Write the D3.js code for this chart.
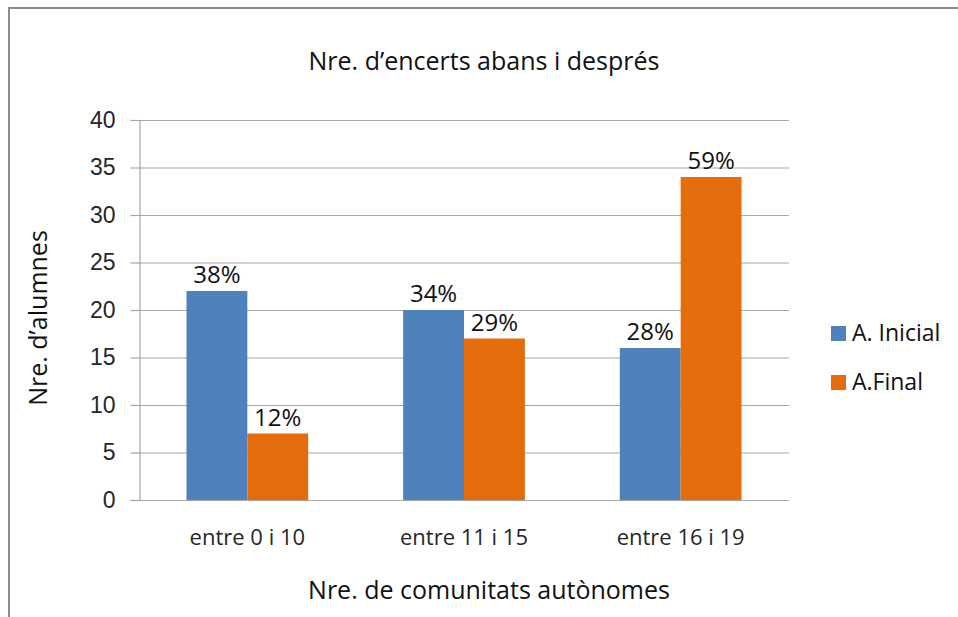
<!DOCTYPE html>
<html><head><meta charset="utf-8">
<script src="https://cdn.jsdelivr.net/npm/d3@7"></script>
<style>
html,body{margin:0;padding:0;background:#fff;overflow:hidden;}
svg{display:block;}
</style></head>
<body>
<svg id="c" width="958" height="617"></svg>
<script>
const categories = ["entre 0 i 10", "entre 11 i 15", "entre 16 i 19"];
const seriesNames = ["A. Inicial", "A.Final"];
const inicialValues = [22, 20, 16];
const finalValues = [7, 17, 34];
const inicialLabels = ["38%", "34%", "28%"];
const finalLabels = ["12%", "29%", "59%"];
const yTicks = [0, 5, 10, 15, 20, 25, 30, 35, 40];
const colors = ["#4F81BD", "#E46C0A"];

(function () {
const svg = d3.select("#c");
const fontMain = "'Open Sans', 'Noto Sans', sans-serif";
const fontNum = "'Liberation Sans', Arial, sans-serif";

// chart border
svg.append("rect").attr("x", 9).attr("y", 8).attr("width", 1000).attr("height", 700)
  .attr("fill", "none").attr("stroke", "#8c8c8c").attr("stroke-width", 2);

const pLeft = 139, pRight = 789, pTop = 120, pBottom = 500;
const x = d3.scaleBand().domain(categories).range([pLeft, pRight]).paddingInner(0).paddingOuter(0);
const y = d3.scaleLinear().domain([0, 40]).range([pBottom, pTop]);
const inner = d3.scaleBand().domain(seriesNames).range([0, x.bandwidth()]).paddingInner(0).paddingOuter(0.78);

// gridlines
svg.append("g").selectAll("line").data(yTicks.filter(d => d > 0)).join("line")
  .attr("x1", pLeft).attr("x2", pRight)
  .attr("y1", d => y(d) + 0.5).attr("y2", d => y(d) + 0.5)
  .attr("stroke", "#a6a6a6").attr("stroke-width", 1.2);

// y axis
const yAxis = svg.append("g").attr("transform", `translate(${pLeft + 0.5},0)`)
  .call(d3.axisLeft(y).tickValues(yTicks).tickSize(9).tickPadding(15));
yAxis.select(".domain").attr("stroke", "#a6a6a6").attr("stroke-width", 1.2);
yAxis.selectAll(".tick line").attr("stroke", "#a6a6a6").attr("stroke-width", 1.2);
yAxis.selectAll(".tick text").attr("font-family", fontNum).attr("font-size", 23).attr("fill", "#262626");

// series data
const data = categories.map((c, i) => ({
  cat: c,
  vals: [
    { s: seriesNames[0], v: inicialValues[i], lab: inicialLabels[i], col: colors[0] },
    { s: seriesNames[1], v: finalValues[i], lab: finalLabels[i], col: colors[1] }
  ]
}));

const groups = svg.append("g").selectAll("g").data(data).join("g")
  .attr("transform", d => `translate(${x(d.cat)},0)`);

groups.selectAll("rect").data(d => d.vals).join("rect")
  .attr("x", d => inner(d.s)).attr("width", inner.bandwidth())
  .attr("y", d => y(d.v)).attr("height", d => y(0) - y(d.v))
  .attr("fill", d => d.col);

groups.selectAll("text").data(d => d.vals).join("text")
  .attr("x", d => inner(d.s) + inner.bandwidth() / 2)
  .attr("y", d => y(d.v) - 8)
  .attr("text-anchor", "middle")
  .attr("font-family", fontMain).attr("font-size", 24).attr("fill", "#111")
  .text(d => d.lab);

// x axis line
svg.append("line").attr("x1", pLeft).attr("x2", pRight)
  .attr("y1", pBottom + 0.5).attr("y2", pBottom + 0.5)
  .attr("stroke", "#a6a6a6").attr("stroke-width", 1.2);

// category labels
svg.append("g").selectAll("text").data(categories).join("text")
  .attr("x", d => x(d) + x.bandwidth() / 2).attr("y", 545)
  .attr("text-anchor", "middle")
  .attr("font-family", fontMain).attr("font-size", 22).attr("fill", "#262626")
  .text(d => d);

// titles
svg.append("text").attr("x", 484).attr("y", 70).attr("text-anchor", "middle")
  .attr("font-family", fontMain).attr("font-size", 25).attr("fill", "#111")
  .text("Nre. d’encerts abans i després");

svg.append("text").attr("x", 489).attr("y", 599).attr("text-anchor", "middle")
  .attr("font-family", fontMain).attr("font-size", 25).attr("fill", "#111")
  .text("Nre. de comunitats autònomes");

svg.append("text").attr("transform", "translate(47,318) rotate(-90)").attr("text-anchor", "middle")
  .attr("font-family", fontMain).attr("font-size", 25).attr("fill", "#111")
  .text("Nre. d’alumnes");

// legend
const leg = svg.append("g").selectAll("g").data(seriesNames).join("g")
  .attr("transform", (d, i) => `translate(831,${326 + i * 49})`);
leg.append("rect").attr("width", 15).attr("height", 15).attr("fill", (d, i) => colors[i]);
leg.append("text").attr("x", 21).attr("y", 15).attr("font-family", fontMain)
  .attr("font-size", 23).attr("fill", "#111").text(d => d);
})();
</script>
</body></html>
